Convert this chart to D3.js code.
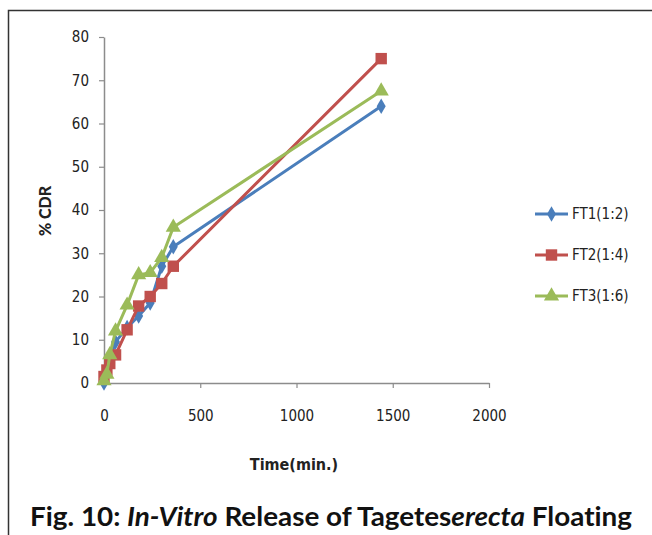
<!DOCTYPE html>
<html>
<head>
<meta charset="utf-8">
<script src="https://cdn.jsdelivr.net/npm/d3@7"></script>
<style>
  body { margin: 0; background: #fff; }
  svg { display: block; }
  text { font-variant-ligatures: none; }
</style>
</head>
<body>
<div id="chart"></div>
<script>
// release data
const times = [0, 15, 30, 60, 120, 180, 240, 300, 360, 1440];
const ft1 = [0, 2.5, 5.5, 9.5, 12.8, 15.5, 18.5, 27, 31.5, 64];
const ft2 = [1.5, 3, 4.5, 6.5, 12.3, 17.8, 20, 23, 27, 75];
const ft3 = [0.5, 2, 6.5, 12, 18, 25, 25.5, 29, 36, 67.5];
const seriesNames = ["FT1(1:2)", "FT2(1:4)", "FT3(1:6)"];
const xTicks = [0, 500, 1000, 1500, 2000];
const yTicks = [0, 10, 20, 30, 40, 50, 60, 70, 80];

const width = 652;
const height = 535;
const tickFont = "'Liberation Sans Narrow', 'DejaVu Sans Condensed', Lato, sans-serif";

const series = [
  { name: seriesNames[0], values: ft1, color: "#4a7ebb", symbol: d3.symbolDiamond, size: 70 },
  { name: seriesNames[1], values: ft2, color: "#c0504d", symbol: d3.symbolSquare, size: 130 },
  { name: seriesNames[2], values: ft3, color: "#9bbb59", symbol: d3.symbolTriangle, size: 100 }
];

const x = d3.scaleLinear().domain([0, 2000]).range([104, 489]);
const y = d3.scaleLinear().domain([0, 80]).range([383, 37]);

const svg = d3.select("#chart")
  .append("svg")
    .attr("width", width)
    .attr("height", height);

// frame
svg.append("path")
    .attr("d", "M8.5,540 V10.5 H652")
    .attr("fill", "none")
    .attr("stroke", "#333")
    .attr("stroke-width", 1.5);

// axes
const axisColor = "#8c8c8c";

const yAxis = svg.append("g")
    .attr("transform", `translate(${x(0)},0)`)
    .call(d3.axisLeft(y).tickValues(yTicks).tickFormat(d3.format("d"))
      .tickSize(5).tickPadding(10).tickSizeOuter(0));

const xAxis = svg.append("g")
    .attr("transform", `translate(0,${y(0)})`)
    .call(d3.axisBottom(x).tickValues(xTicks).tickFormat(d3.format("d"))
      .tickSize(5).tickPadding(22).tickSizeOuter(0));

[xAxis, yAxis].forEach(g => {
  g.select(".domain").attr("stroke", axisColor).attr("stroke-width", 1.5);
  g.selectAll(".tick line").attr("stroke", axisColor).attr("stroke-width", 1.2);
  g.selectAll(".tick text")
      .attr("font-family", tickFont)
      .attr("font-size", 15)
      .attr("fill", "#222");
});

// axis titles
svg.append("text")
    .attr("x", 294)
    .attr("y", 470)
    .attr("text-anchor", "middle")
    .attr("font-family", tickFont)
    .attr("font-weight", "bold")
    .attr("font-size", 16)
    .attr("fill", "#222")
    .text("Time(min.)");

svg.append("text")
    .attr("transform", "translate(51,211) rotate(-90)")
    .attr("text-anchor", "middle")
    .attr("font-family", "Lato, sans-serif")
    .attr("font-weight", 900)
    .attr("font-size", 16)
    .attr("fill", "#222")
    .text("% CDR");

// lines + markers
const line = d3.line()
    .x((d, i) => x(times[i]))
    .y(d => y(d));

series.forEach(s => {
  svg.append("path")
      .datum(s.values)
      .attr("fill", "none")
      .attr("stroke", s.color)
      .attr("stroke-width", 3)
      .attr("stroke-linejoin", "round")
      .attr("d", line);

  svg.append("g")
    .selectAll()
    .data(s.values)
    .join("path")
      .attr("transform", (d, i) => `translate(${x(times[i])},${y(d)})`)
      .attr("d", d3.symbol().type(s.symbol).size(s.size))
      .attr("fill", s.color);
});

// legend
const legend = svg.append("g")
  .selectAll()
  .data(series)
  .join("g")
    .attr("transform", (d, i) => `translate(535,${214 + i * 41})`);

legend.append("line")
    .attr("x1", 0)
    .attr("x2", 33)
    .attr("stroke", d => d.color)
    .attr("stroke-width", 3);

legend.append("path")
    .attr("transform", "translate(16.5,0)")
    .attr("d", d => d3.symbol().type(d.symbol).size(d.size)())
    .attr("fill", d => d.color);

legend.append("text")
    .attr("x", 37)
    .attr("dy", "0.35em")
    .attr("font-family", tickFont)
    .attr("font-size", 15)
    .attr("fill", "#222")
    .text(d => d.name);

// caption
const caption = svg.append("text")
    .attr("x", 30)
    .attr("y", 526)
    .attr("font-family", "Lato, 'Open Sans', sans-serif")
    .attr("font-weight", "bold")
    .attr("font-size", 27)
    .attr("textLength", 602)
    .attr("lengthAdjust", "spacingAndGlyphs")
    .attr("fill", "#111");

caption.append("tspan").text("Fig. 10: ");
caption.append("tspan").attr("font-style", "italic").text("In-Vitro");
caption.append("tspan").text(" Release of Tagetes");
caption.append("tspan").attr("font-style", "italic").text("erecta");
caption.append("tspan").text(" Floating");
</script>
</body>
</html>
